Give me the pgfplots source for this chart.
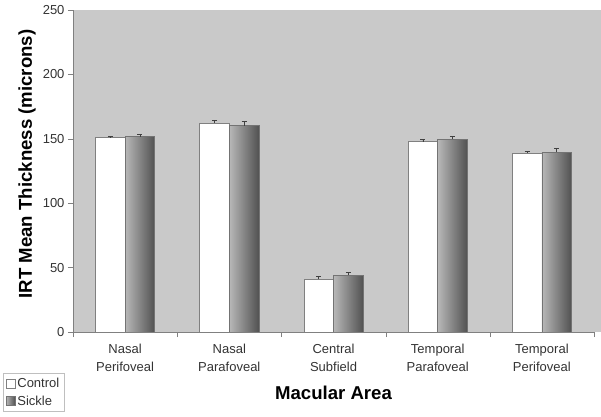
\documentclass[border=0pt]{standalone}
\usepackage{pgfplots}
\pgfplotsset{compat=1.18}
\usepackage{fontspec}
\setmainfont{Liberation Sans}
\definecolor{bggray}{gray}{0.79}
\definecolor{edgegray}{gray}{0.5}
\definecolor{txt}{gray}{0.2}
\pgfplotsset{
  ctrl/.style={ybar, bar shift=0pt, fill=white, draw=edgegray, line width=0.7pt,
    error bars/y dir=plus, error bars/y explicit},
  sick/.style={ybar, bar shift=0pt, draw=black!55, line width=0.7pt,
    left color=black!28, middle color=black!45, right color=black!68,
    error bars/y dir=plus, error bars/y explicit},
}
\begin{document}
\begin{tikzpicture}
\path[use as bounding box] (0,0) rectangle (601bp,417bp);
\fill[bggray] (73bp,85bp) rectangle (601bp,407bp);
\begin{axis}[
  at={(73bp,85bp)}, anchor=south west,
  scale only axis, width=521bp, height=322bp,
  ymin=0, ymax=250, ytick={0,50,...,250},
  xmin=-0.5, xmax=4.5,
  xtick={0,1,2,3,4},
  xticklabels={{Nasal\\Perifoveal},{Nasal\\Parafoveal},{Central\\Subfield},{Temporal\\Parafoveal},{Temporal\\Perifoveal}},
  minor xtick={-0.5,0.5,1.5,2.5,3.5,4.5},
  major x tick style={draw=none},
  minor tick length=5bp, major tick length=5bp,
  tick align=outside,
  axis x line*=bottom, axis y line*=left,
  axis line style={edgegray,-},
  tick style={edgegray},
  axis background/.style={fill=bggray},
  /pgf/number format/assume math mode=true,
  ticklabel style={font=\fontsize{13bp}{18bp}\selectfont, text=txt},
  xticklabel style={align=center, yshift=-4bp},
  ylabel={IRT Mean Thickness (microns)},
  ylabel style={at={(axis description cs:-0.0883,0.5217)}, anchor=center, font=\fontsize{18.6bp}{22bp}\selectfont\bfseries},
  xlabel={Macular Area},
  xlabel style={at={(axis description cs:0.5,-0.1894)}, anchor=center, font=\fontsize{18.6bp}{22bp}\selectfont\bfseries},
  bar width=29.6bp,
  legend style={at={(axis description cs:-0.1344,-0.1273)}, anchor=north west, draw=black!25,
    font=\fontsize{13bp}{15bp}\selectfont, text=txt, inner xsep=2.5bp, inner ysep=3bp, row sep=2.5bp},
  legend cell align=left,
  legend image code/.code={\draw[#1] (0bp,-4.5bp) rectangle (9bp,4.5bp);},
  error bars/error bar style={black!75, line width=0.6pt},
  error bars/error mark options={rotate=90, mark size=2.5bp, black!75, line width=0.6pt},
]
% control bars centred at category - 0.142, sickle at category + 0.142
\addplot[ctrl] coordinates {(-0.142,151.0) +- (0,1.0)};
\addplot[sick] coordinates {(0.142,151.6) +- (0,2.2)};
\addplot[ctrl, forget plot] coordinates {(0.858,162.3) +- (0,1.8)};
\addplot[sick, forget plot] coordinates {(1.142,160.2) +- (0,3.0)};
\addplot[ctrl, forget plot] coordinates {(1.858,41.1) +- (0,2.3)};
\addplot[sick, forget plot] coordinates {(2.142,44.0) +- (0,2.6)};
\addplot[ctrl, forget plot] coordinates {(2.858,147.8) +- (0,1.9)};
\addplot[sick, forget plot] coordinates {(3.142,149.6) +- (0,2.6)};
\addplot[ctrl, forget plot] coordinates {(3.858,139.0) +- (0,1.3)};
\addplot[sick, forget plot] coordinates {(4.142,139.7) +- (0,2.6)};
\legend{Control, Sickle}
\end{axis}
\end{tikzpicture}
\end{document}
